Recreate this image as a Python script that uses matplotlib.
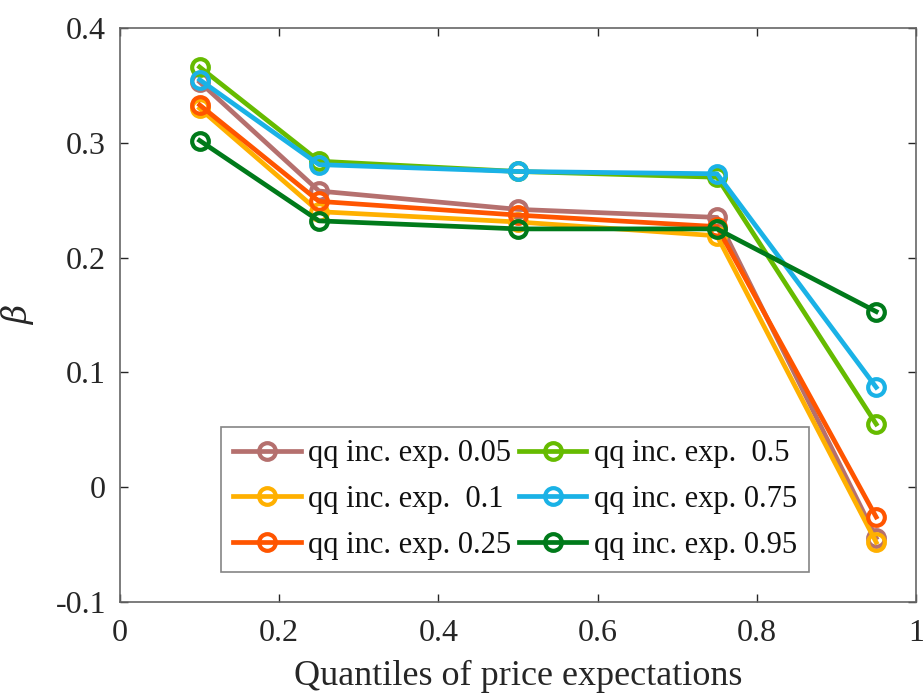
import matplotlib
matplotlib.use("Agg")
import matplotlib.pyplot as plt

quantiles = [0.1, 0.25, 0.5, 0.75, 0.95]
labels = ["qq inc. exp. 0.05", "qq inc. exp.  0.1", "qq inc. exp. 0.25",
          "qq inc. exp.  0.5", "qq inc. exp. 0.75", "qq inc. exp. 0.95"]
beta_005 = [0.353, 0.258, 0.242, 0.235, -0.044]
beta_010 = [0.330, 0.240, 0.231, 0.219, -0.048]
beta_025 = [0.333, 0.249, 0.237, 0.227, -0.026]
beta_050 = [0.366, 0.284, 0.275, 0.270, 0.055]
beta_075 = [0.355, 0.281, 0.275, 0.273, 0.087]
beta_095 = [0.302, 0.232, 0.225, 0.225, 0.153]
series = [beta_005, beta_010, beta_025, beta_050, beta_075, beta_095]
colors = ["#B5706E", "#FFB000", "#FF5500", "#66BB00", "#1AB2E6", "#007A1A"]
xticks = [0, 0.2, 0.4, 0.6, 0.8, 1]
yticks = [-0.1, 0, 0.1, 0.2, 0.3, 0.4]

plt.rcParams['font.family'] = ['Liberation Serif', 'DejaVu Serif']
plt.rcParams['mathtext.fontset'] = 'dejavuserif'

fig = plt.figure(figsize=(9.24, 7.0), dpi=100)
ax = fig.add_axes([120/924, 1-602/700, 796/924, 574/700])

for ys, c, lab in zip(series, colors, labels):
    ax.plot(quantiles, ys, color=c, lw=3.4, marker='o', markersize=12,
            markerfacecolor='none', markeredgewidth=3.0, label=lab)

ax.set_xlim(0, 1)
ax.set_ylim(-0.1, 0.4)
ax.set_xticks(xticks)
ax.set_xticklabels(["0", "0.2", "0.4", "0.6", "0.8", "1"])
ax.set_yticks(yticks)
ax.set_yticklabels(["-0.1", "0", "0.1", "0.2", "0.3", "0.4"])
ax.tick_params(direction='in', length=6, width=1, colors='#262626',
               labelsize=23, top=True, right=True)
ax.tick_params(axis='x', pad=12)
ax.tick_params(axis='y', pad=10)
for sp in ax.spines.values():
    sp.set_color('#666666')
    sp.set_linewidth(1.2)

ax.set_xlabel("Quantiles of price expectations", fontsize=26, color='#262626', labelpad=9)
ax.set_ylabel(r"$\beta$", fontsize=24, color='#262626', labelpad=14)

leg = ax.legend(ncol=2, loc='lower left', bbox_to_anchor=(0.127, 0.052),
                fontsize=22, frameon=True, fancybox=False, handlelength=2.2,
                handletextpad=0.25, columnspacing=0.25, borderpad=0.4,
                labelspacing=0.55, borderaxespad=0)
leg.get_frame().set_edgecolor('#666666')
leg.get_frame().set_linewidth(1.2)
for t in leg.get_texts():
    t.set_color('#111111')

fig.savefig("out.png", dpi=100)
